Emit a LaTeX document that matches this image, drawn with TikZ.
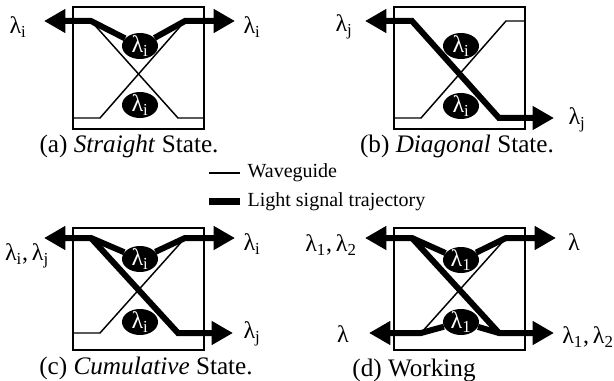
\documentclass[tikz,border=0pt]{standalone}
\usepackage{fontspec}
\setmainfont{Liberation Serif}
\usetikzlibrary{positioning,arrows.meta,shapes.geometric}

\tikzset{
  panel/.style={draw,line width=1.4pt,rectangle,minimum width=98pt,minimum height=91.5pt,inner sep=0pt},
  filter/.style={ellipse,fill=black,text=white,minimum width=27pt,minimum height=19.5pt,inner sep=-1.5pt,font=\fontsize{18}{18}\selectfont},
  waveguide/.style={line width=1.1pt},
  signal/.style={line width=4.5pt,>={Triangle[length=16pt,width=17pt]}},
  lam/.style={inner sep=0pt,font=\fontsize{18}{20}\selectfont},
  caption/.style={inner sep=0pt,anchor=base,font=\fontsize{18.9}{20}\selectfont},
  legend/.style={inner sep=5.5pt,anchor=base west,font=\fontsize{15}{16}\selectfont}
}

\begin{document}
\begin{tikzpicture}[x=0.75pt,y=-0.75pt]
  \useasboundingbox (0,0) rectangle (614,381);

  % Four switches with the same frame
  \foreach \p/\ox/\oy/\wt/\wb/\eu/\el/\sub in {a/73/7/14/111/39/98/i,b/394/7/14/111/39/99/i,c/73/228/10/105/31/94/i,d/394/228/10/105/32/94/1} {
    \begin{scope}[shift={(\ox,\oy)}]
      \node[panel] (\p-box) at (65.5,61) {};
      \coordinate (\p-tl) at (0,\wt);
      \coordinate (\p-tlb) at (18,\wt);
      \coordinate (\p-brb) at (105,\wb);
      \coordinate (\p-br) at (131,\wb);
      \coordinate (\p-bl) at (0,\wb);
      \coordinate (\p-blb) at (27,\wb);
      \coordinate (\p-trb) at (112,\wt);
      \coordinate (\p-tr) at (131,\wt);
      % arrow tips outside the frame
      \coordinate (\p-tipTL) at (-29,\wt);
      \coordinate (\p-tipTR) at (162,\wt);
      \coordinate (\p-tipBL) at (-25,\wb);
      \coordinate (\p-tipBR) at (160,\wb);
      \draw[waveguide] (\p-tl) -- (\p-tlb) -- (\p-brb) -- (\p-br);
      \draw[waveguide] (\p-bl) -- (\p-blb) -- (\p-trb) -- (\p-tr);
      \node[filter] (\p-up) at (67,\eu) {λ\textsubscript{\sub}};
      \node[filter] (\p-low) at (67,\el) {λ\textsubscript{\sub}};
    \end{scope}
  }

  % Straight
  \draw[signal,<-] (a-tipTL) -- (a-tlb) -- (a-up);
  \draw[signal,<-] (a-tipTR) -- (a-trb) -- (a-up);
  % Diagonal
  \draw[signal,<->] (b-tipTL) -- (b-tlb) -- (b-brb) -- (b-tipBR);
  % Cumulative
  \draw[signal,<-] (c-tipTL) -- (c-tlb) -- (c-up);
  \draw[signal,<-] (c-tipTR) -- (c-trb) -- (c-up);
  \draw[signal,->] (c-tlb) -- (c-brb) -- (c-tipBR);
  % Working
  \draw[signal,<-] (d-tipTL) -- (d-tlb) -- (d-up);
  \draw[signal,<-] (d-tipTR) -- (d-trb) -- (d-up);
  \draw[signal,<-] (d-tipBL) -- (d-blb) -- (d-low);
  \draw[signal,<-] (d-tipBR) -- (d-brb) -- (d-low);
  \draw[signal] (d-tlb) -- (d-brb);

  \node[lam] (a-inL) at (18,27) {λ\textsubscript{i}};
  \node[lam] (a-inR) at (252,27) {λ\textsubscript{i}};
  \node[lam] (b-inL) at (344,27) {λ\textsubscript{j}};
  \node[lam] (b-inR) at (577,120) {λ\textsubscript{j}};
  \node[lam] (c-inL) at (27,256) {λ\textsubscript{i},\,λ\textsubscript{j}};
  \node[lam] (c-inR) at (252,244) {λ\textsubscript{i}};
  \node[lam] (c-outR) at (252,334) {λ\textsubscript{j}};
  \node[lam] (d-inL) at (331,245) {λ\textsubscript{1},\,λ\textsubscript{2}};
  \node[lam] (d-inR) at (574,242) {λ};
  \node[lam] (d-outL) at (343,334) {λ};
  \node[lam] (d-outR) at (588,337) {λ\textsubscript{1},\,λ\textsubscript{2}};

  \node[caption] (a-cap) at (129,153) {(a) \textit{Straight} State.};
  \node[caption] (b-cap) at (457,153) {(b) \textit{Diagonal} State.};
  \node[caption] (c-cap) at (146,374) {(c) \textit{Cumulative} State.};
  \node[caption] (d-cap) at (414,376) {(d) Working};

  % Legend
  \node[legend] (wave) at (240,178) {Waveguide};
  \node[legend] (light) at (240,206) {Light signal trajectory};
  \coordinate[left=23pt of wave.west] (wavekey);
  \coordinate[left=23pt of light.west] (lightkey);
  \draw[waveguide] (wavekey) -- (wave.west);
  \draw[line width=5pt] (lightkey) -- (light.west);
\end{tikzpicture}
\end{document}
